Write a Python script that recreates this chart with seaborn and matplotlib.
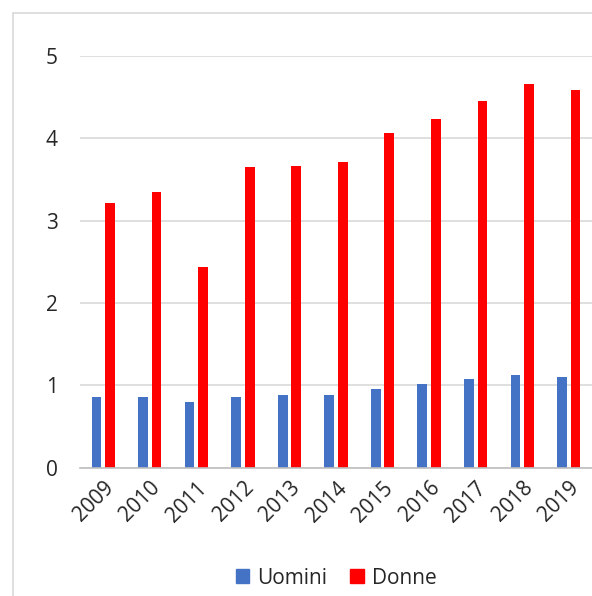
import pandas as pd
import matplotlib.pyplot as plt
import seaborn as sns
from matplotlib.patches import Rectangle

years = ["2009", "2010", "2011", "2012", "2013", "2014",
         "2015", "2016", "2017", "2018", "2019"]
uomini = [0.86, 0.86, 0.80, 0.86, 0.88, 0.88, 0.96, 1.02, 1.08, 1.12, 1.10]
donne = [3.22, 3.35, 2.44, 3.65, 3.67, 3.71, 4.07, 4.23, 4.45, 4.66, 4.59]

df = pd.DataFrame({
    "anno": years * 2,
    "valore": uomini + donne,
    "sesso": ["Uomini"] * len(years) + ["Donne"] * len(years),
})

sns.set_style("white")
plt.rcParams["font.family"] = ["Open Sans", "DejaVu Sans"]
text_col = "#262626"

fig = plt.figure(figsize=(5.92, 5.96), dpi=100)
ax = fig.add_axes([80 / 592, 1 - 467.7 / 596, 1 - 80 / 592, (467.7 - 56) / 596])

sns.barplot(data=df, x="anno", y="valore", hue="sesso", ax=ax,
            palette={"Uomini": "#4472C4", "Donne": "#FF0000"},
            width=0.58, gap=0.28, saturation=1, linewidth=0, legend=False)

ax.set_ylim(0, 5)
ax.set_xlim(-0.5, 10.5)
ax.set_yticks([0, 1, 2, 3, 4, 5])
ax.yaxis.grid(True, color="#d9d9d9", linewidth=1.2)
ax.set_axisbelow(True)
for s in ["top", "right", "left"]:
    ax.spines[s].set_visible(False)
ax.spines["bottom"].set_color("#bfbfbf")
ax.spines["bottom"].set_linewidth(1.2)
ax.set_xlabel("")
ax.set_ylabel("")
ax.tick_params(axis="both", length=0, colors=text_col, labelsize=15)
ax.tick_params(axis="y", pad=16)
plt.setp(ax.get_xticklabels(), rotation=45, ha="right", rotation_mode="anchor")
ax.tick_params(axis="x", pad=7)

# outer chart frame
fig.patches.append(Rectangle((13 / 592, -0.1), 1.2, 1 - 13 / 596 + 0.1,
                             transform=fig.transFigure, fill=False,
                             edgecolor="#d9d9d9", linewidth=1.2))

handles = [Rectangle((0, 0), 1, 1, color="#4472C4"),
           Rectangle((0, 0), 1, 1, color="#FF0000")]
fig.legend(handles, ["Uomini", "Donne"], loc="center",
           bbox_to_anchor=(336 / 592, 1 - 578 / 596), ncol=2, frameon=False,
           handlelength=0.65, handleheight=0.65, handletextpad=0.38,
           columnspacing=1.1, fontsize=15, labelcolor=text_col)

fig.savefig("out.png", dpi=100)
